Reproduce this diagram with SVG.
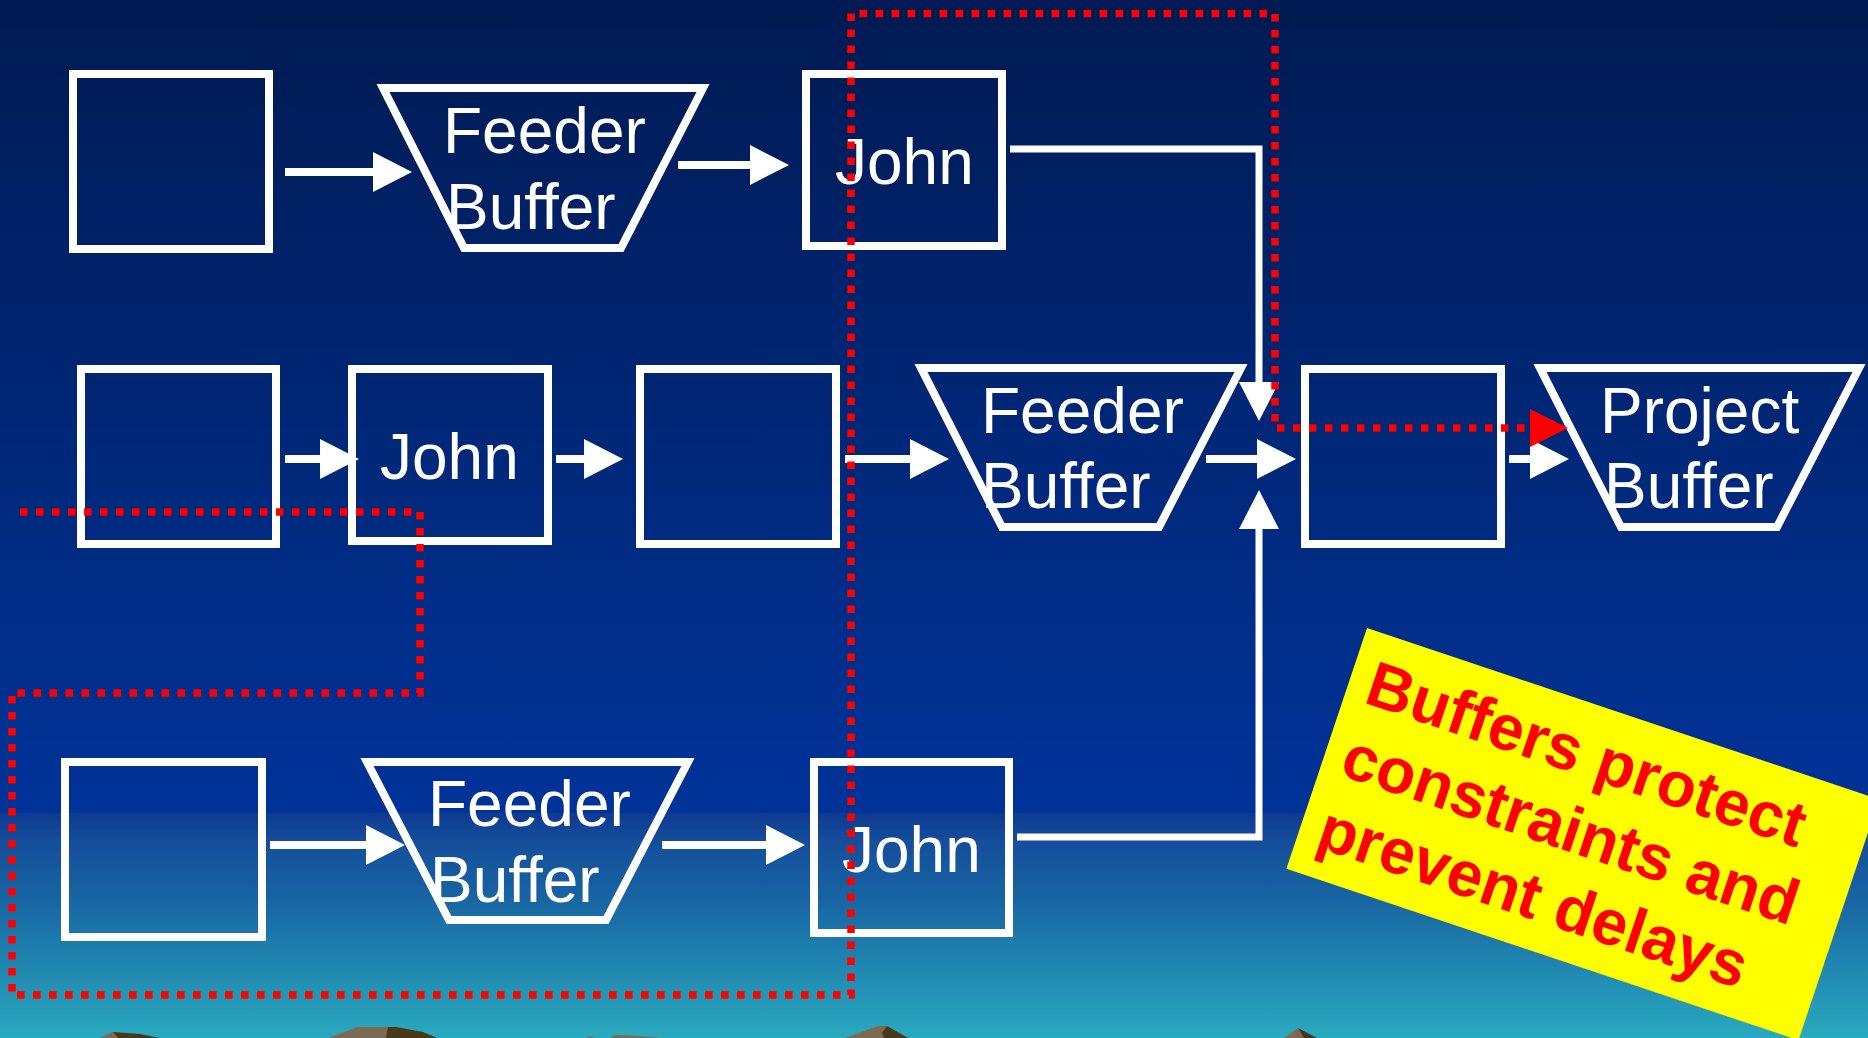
<svg xmlns="http://www.w3.org/2000/svg" width="1868" height="1038" viewBox="0 0 1868 1038">
<defs>
<linearGradient id="bg" gradientUnits="userSpaceOnUse" x1="0" y1="0" x2="0" y2="1038">
<stop offset="0" stop-color="#001a52"/>
<stop offset="0.783" stop-color="#003399"/>
<stop offset="0.7835" stop-color="#0f3a90"/>
<stop offset="0.811" stop-color="#154e9b"/>
<stop offset="0.867" stop-color="#1865a3"/>
<stop offset="1" stop-color="#29aabf"/>
</linearGradient>
<marker id="ah" markerUnits="userSpaceOnUse" markerWidth="40" markerHeight="42" viewBox="0 -21 40 42" refX="0" refY="0" orient="auto" overflow="visible">
<path d="M0,-20 L39,0 L0,20z" fill="#fff"/>
</marker>
<marker id="ahr" markerUnits="userSpaceOnUse" markerWidth="40" markerHeight="42" viewBox="0 -21 40 42" refX="0" refY="0" orient="auto" overflow="visible">
<path d="M0,-19 L38,0 L0,19z" fill="#f00"/>
</marker>
</defs>
<style>
.box{fill:none;stroke:#fff;stroke-width:8}
.buf{fill:none;stroke:#fff;stroke-width:8;stroke-linejoin:miter}
.lbl{font-family:"Liberation Sans",Arial,sans-serif;font-size:64px;fill:#fff}
.arr{fill:none;stroke:#fff;stroke-width:8;marker-end:url(#ah)}
.con{fill:none;stroke:#fff;stroke-width:7;marker-end:url(#ah)}
.crit{fill:none;stroke:#f00;stroke-width:7.5;stroke-dasharray:7.5 8.5;marker-end:url(#ahr)}
.note{font-family:"Liberation Sans",Arial,sans-serif;font-weight:bold;font-size:64px;fill:#f00}
.mtl{fill:#7c6b52}
.mtd{fill:#463818}
</style>
<rect x="0" y="0" width="1868" height="1038" fill="url(#bg)"/>
<g id="mountains">
<polygon class="mtl" points="100,1038 113,1032 122,1033 130,1038"/>
<polygon class="mtd" points="113,1032 140,1034 160,1038 118,1038"/>
<polygon class="mtl" points="328,1038 358,1027 388,1027 392,1038"/>
<polygon class="mtd" points="388,1027 396,1027 423,1032 437,1038 386,1038"/>
<polygon class="mtl" points="586,1038 590,1036 594,1038"/>
<polygon class="mtl" points="610,1038 616,1035 640,1036 660,1038"/>
<polygon class="mtl" points="845,1038 878,1026 887,1026 892,1038"/>
<polygon class="mtd" points="887,1026 908,1038 884,1038 882,1033"/>
<polygon class="mtl" points="1284,1038 1298,1028 1305,1038"/>
<polygon class="mtd" points="1298,1028 1317,1038 1304,1038"/>
</g>
<g id="n-a1"><rect class="box" x="73" y="74" width="196" height="175"/></g>
<g id="n-f1"><polygon class="buf" points="383,88 703,88 621,248 464,248"/>
<text class="lbl" x="443" y="153">Feeder</text><text class="lbl" x="446" y="229">Buffer</text></g>
<g id="n-j1"><rect class="box" x="806" y="74" width="196" height="172"/>
<text class="lbl" x="835" y="184">John</text></g>
<g id="n-b1"><rect class="box" x="81" y="369" width="195" height="175"/></g>
<g id="n-j2"><rect class="box" x="352" y="369" width="196" height="172"/>
<text class="lbl" x="380" y="479">John</text></g>
<g id="n-c2"><rect class="box" x="640" y="369" width="196" height="175"/></g>
<g id="n-f2"><polygon class="buf" points="921,368 1241,368 1159,527 1002,527"/>
<text class="lbl" x="981" y="433">Feeder</text><text class="lbl" x="981" y="508">Buffer</text></g>
<g id="n-d2"><rect class="box" x="1305" y="369" width="196" height="175"/></g>
<g id="n-pb"><polygon class="buf" points="1540,368 1859,368 1777,527 1621,527"/>
<text class="lbl" x="1600" y="433">Project</text><text class="lbl" x="1604" y="508">Buffer</text></g>
<g id="n-a3"><rect class="box" x="65" y="762" width="197" height="175"/></g>
<g id="n-f3"><polygon class="buf" points="367,762 688,762 606,920 449,920"/>
<text class="lbl" x="428" y="826">Feeder</text><text class="lbl" x="430" y="902">Buffer</text></g>
<g id="n-j3"><rect class="box" x="814" y="762" width="195" height="171"/>
<text class="lbl" x="842" y="872">John</text></g>
<g id="connectors">
<path class="arr" d="M285,172 H373"/>
<path class="arr" d="M678,165 H750"/>
<path class="con" d="M1010,149 H1259 V382"/>
<path class="arr" d="M285,459 H320"/>
<path class="arr" d="M556,459 H584"/>
<path class="arr" d="M845,459 H910"/>
<path class="arr" d="M1206,459 H1257"/>
<path class="arr" d="M1509,459 H1530"/>
<path class="arr" d="M270,845 H366"/>
<path class="arr" d="M662,845 H766"/>
<path class="con" d="M1017,837 H1259 V529"/>
<path class="crit" d="M20,512 H420 V693 H12 V995 H851 V13.5 H1275 V428 H1530"/>
</g>
<g id="callout" transform="translate(1367,628) rotate(18.5)">
<rect x="0" y="0" width="540" height="254" fill="#ff0"/>
<text class="note" x="19" y="72">Buffers protect</text>
<text class="note" x="19" y="148">constraints and</text>
<text class="note" x="19" y="224">prevent delays</text>
</g>
</svg>
